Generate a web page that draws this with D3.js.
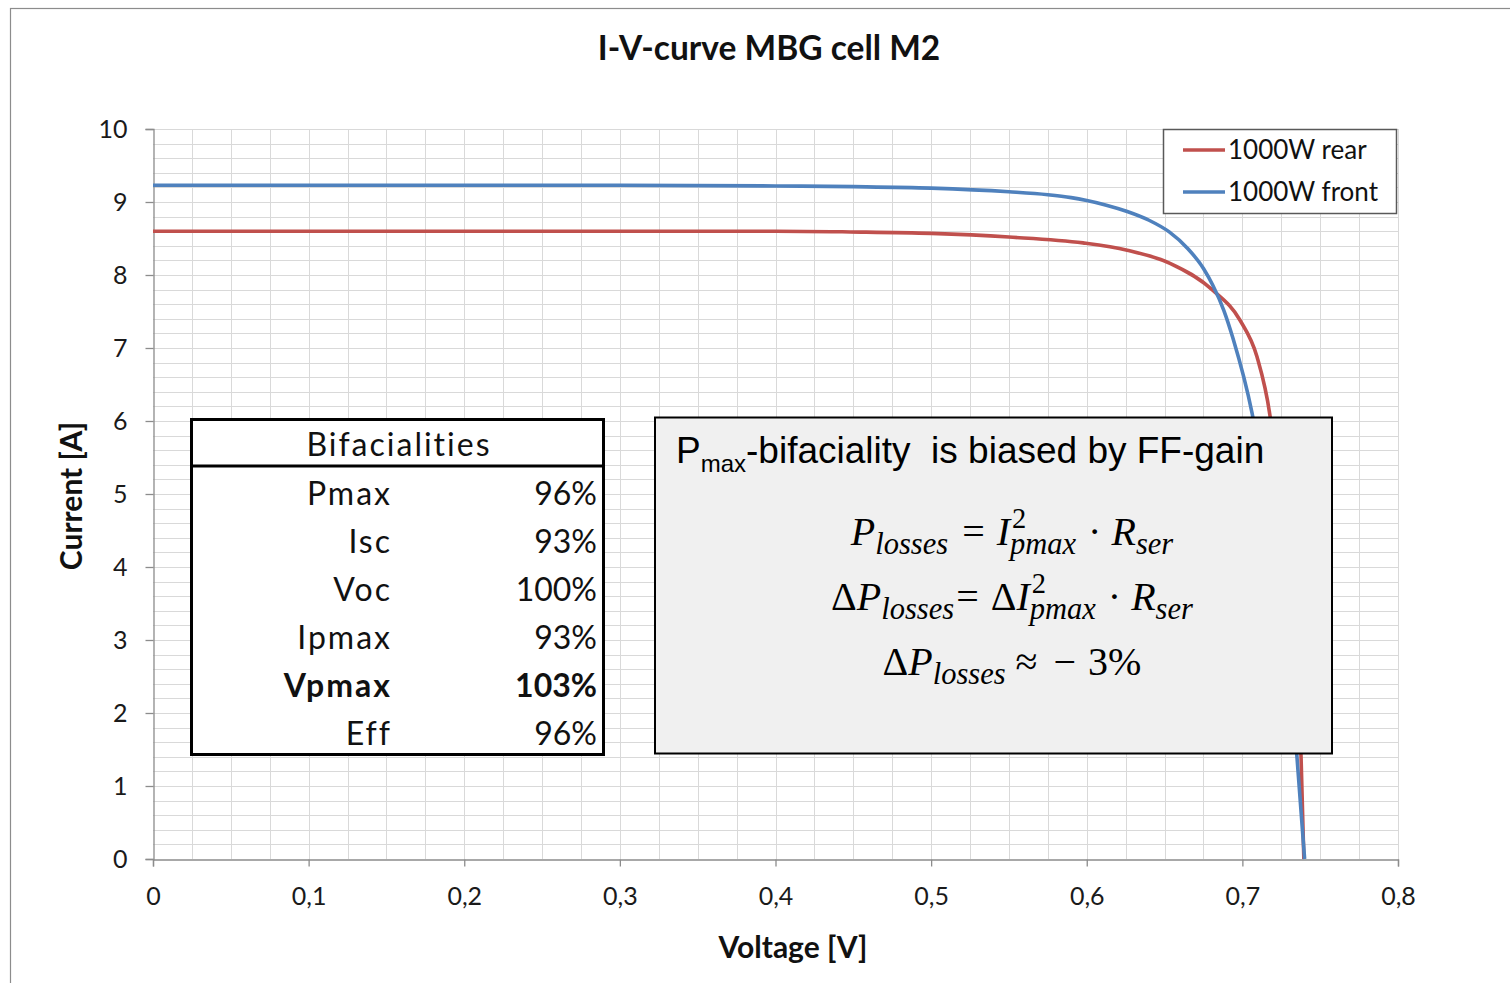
<!DOCTYPE html>
<html>
<head>
<meta charset="utf-8">
<script src="https://cdn.jsdelivr.net/npm/d3@7"></script>
<style>
  html, body { margin: 0; padding: 0; background: #fff; }
  svg { display: block; }
  text { white-space: pre; }
</style>
</head>
<body>
<svg id="chart" width="1510" height="983"></svg>
<script>
// Measured I-V data (voltage in V, current in A)
const frontVoltage = [0, 0.05, 0.1, 0.2, 0.3, 0.4, 0.45, 0.5, 0.55, 0.575, 0.59, 0.6, 0.612, 0.626, 0.64, 0.653, 0.665, 0.675, 0.681, 0.688, 0.694, 0.7062, 0.72, 0.73, 0.735, 0.740];
const frontCurrent = [9.23, 9.23, 9.23, 9.23, 9.23, 9.22, 9.21, 9.19, 9.14, 9.10, 9.06, 9.02, 8.96, 8.87, 8.75, 8.59, 8.36, 8.09, 7.86, 7.52, 7.13, 6.11, 4.30, 2.55, 1.42, 0];
const rearVoltage = [0, 0.1, 0.2, 0.3, 0.4, 0.448, 0.5, 0.55, 0.5976, 0.626, 0.6535, 0.6811, 0.6985, 0.7094, 0.7177, 0.728, 0.7377, 0.7395];
const rearCurrent = [8.60, 8.60, 8.60, 8.60, 8.60, 8.59, 8.57, 8.52, 8.44, 8.34, 8.16, 7.79, 7.38, 6.88, 6.08, 3.90, 1.40, 0];

const seriesNames = ["1000W rear", "1000W front"];
const seriesColors = ["#c0504d", "#4f81bd"];

const xTickValues = [0, 0.1, 0.2, 0.3, 0.4, 0.5, 0.6, 0.7, 0.8];
const yTickValues = [0, 1, 2, 3, 4, 5, 6, 7, 8, 9, 10];

const bifacialityParams = ["Pmax", "Isc", "Voc", "Ipmax", "Vpmax", "Eff"];
const bifacialityValues = ["96%", "93%", "100%", "93%", "103%", "96%"];
const bifacialityBold = ["Vpmax"];

const svg = d3.select("#chart");
const font = "Lato, 'Open Sans', sans-serif";

// Outer chart frame
svg.append("rect").attr("x", 10.5).attr("y", 8.5).attr("width", 1540).attr("height", 1000)
  .attr("fill", "none").attr("stroke", "#8c8c8c").attr("stroke-width", 1.2);

const plot = { left: 153, right: 1398, top: 129, bottom: 859 };
const x = d3.scaleLinear().domain([0, 0.8]).range([plot.left, plot.right]);
const y = d3.scaleLinear().domain([0, 10]).range([plot.bottom, plot.top]);

// Grid: minor verticals every 0.025 V, horizontals every 0.2 A
const grid = svg.append("g").attr("stroke", "#d9d9d9").attr("stroke-width", 1);
grid.selectAll("line.v").data(d3.range(1, 33).map(i => i * 0.025)).join("line")
  .attr("x1", d => Math.round(x(d)) + 0.5).attr("x2", d => Math.round(x(d)) + 0.5)
  .attr("y1", plot.top).attr("y2", plot.bottom);
grid.selectAll("line.h").data(d3.range(1, 51).map(i => i * 0.2)).join("line")
  .attr("y1", d => Math.round(y(d)) + 0.5).attr("y2", d => Math.round(y(d)) + 0.5)
  .attr("x1", plot.left).attr("x2", plot.right);

// Axes
const xAxis = svg.append("g").attr("transform", `translate(0,${plot.bottom + 0.5})`)
  .call(d3.axisBottom(x).tickValues(xTickValues).tickSize(7).tickPadding(21)
    .tickFormat(d => d3.format(".1~f")(d).replace(".", ",")));
const yAxis = svg.append("g").attr("transform", `translate(${plot.left + 0.5},0)`)
  .call(d3.axisLeft(y).tickValues(yTickValues).tickSize(8).tickPadding(18));
[xAxis, yAxis].forEach(a => {
  a.select(".domain").attr("stroke", "#8c8c8c").attr("stroke-width", 1.3);
  a.selectAll(".tick line").attr("stroke", "#8c8c8c").attr("stroke-width", 1.3);
  a.selectAll(".tick text").attr("fill", "#1a1a1a").style("font-family", font).style("font-size", "25px");
});

// Curves
const line = d3.line().x(d => x(d[0])).y(d => y(d[1])).curve(d3.curveMonotoneX);
const rear = rearVoltage.map((v, i) => [v, rearCurrent[i]]);
const front = frontVoltage.map((v, i) => [v, frontCurrent[i]]);
svg.append("path").datum(rear).attr("d", line).attr("fill", "none")
  .attr("stroke", seriesColors[0]).attr("stroke-width", 3.6).attr("stroke-linejoin", "round");
svg.append("path").datum(front).attr("d", line).attr("fill", "none")
  .attr("stroke", seriesColors[1]).attr("stroke-width", 3.6).attr("stroke-linejoin", "round");

// Title and axis titles
svg.append("text").attr("x", 769).attr("y", 60).attr("text-anchor", "middle")
  .style("font-family", font).style("font-weight", "bold").style("font-size", "33.5px").attr("fill", "#111")
  .text("I-V-curve MBG cell M2");
svg.append("text").attr("x", 793).attr("y", 958).attr("text-anchor", "middle")
  .style("font-family", font).style("font-weight", "bold").style("font-size", "30px").attr("fill", "#111")
  .text("Voltage [V]");
svg.append("text").attr("transform", "translate(82,496) rotate(-90)").attr("text-anchor", "middle")
  .style("font-family", font).style("font-weight", "bold").style("font-size", "30px").attr("fill", "#111")
  .text("Current [A]");

// Legend
const legend = svg.append("g");
legend.append("rect").attr("x", 1163.5).attr("y", 129.5).attr("width", 233).attr("height", 84)
  .attr("fill", "#fff").attr("stroke", "#595959").attr("stroke-width", 1.5);
seriesNames.forEach((name, i) => {
  const ly = 150 + i * 42;
  legend.append("line").attr("x1", 1183).attr("x2", 1225).attr("y1", ly).attr("y2", ly)
    .attr("stroke", seriesColors[i]).attr("stroke-width", 3.6);
  legend.append("text").attr("x", 1228).attr("y", ly + 9)
    .style("font-family", font).style("font-size", "26px").attr("fill", "#111").text(name);
});

// Bifacialities table
const table = svg.append("g");
table.append("rect").attr("x", 191.5).attr("y", 419.5).attr("width", 412).attr("height", 335)
  .attr("fill", "#fff").attr("stroke", "#000").attr("stroke-width", 3);
table.append("line").attr("x1", 191).attr("x2", 604).attr("y1", 466).attr("y2", 466)
  .attr("stroke", "#000").attr("stroke-width", 3);
table.append("text").attr("x", 399).attr("y", 456).attr("text-anchor", "middle")
  .style("font-family", font).style("font-size", "32px").style("letter-spacing", "2px").attr("fill", "#111")
  .text("Bifacialities");
bifacialityParams.forEach((p, i) => {
  const by = 505 + i * 48;
  const bold = bifacialityBold.includes(p) ? "bold" : "normal";
  table.append("text").attr("x", 392).attr("y", by).attr("text-anchor", "end")
    .style("font-family", font).style("font-size", "32px").style("font-weight", bold)
    .style("letter-spacing", "2px").attr("fill", "#111").text(p);
  table.append("text").attr("x", 597).attr("y", by).attr("text-anchor", "end")
    .style("font-family", font).style("font-size", "32px").style("font-weight", bold)
    .attr("fill", "#111").text(bifacialityValues[i]);
});

// Annotation box with the power-loss relations
const note = svg.append("g");
note.append("rect").attr("x", 655).attr("y", 417.5).attr("width", 677).attr("height", 336)
  .attr("fill", "#f0f0f0").attr("stroke", "#000").attr("stroke-width", 2);
const head = note.append("text").attr("x", 676).attr("y", 463)
  .style("font-family", "'Liberation Sans', Arial, sans-serif").style("font-size", "37px")
  .attr("fill", "#000");
head.append("tspan").text("P");
head.append("tspan").attr("dy", 9).style("font-size", "24px").text("max");
head.append("tspan").attr("dy", -9).text("-bifaciality\u00a0 is biased by FF-gain");

const mathFont = "'Liberation Serif', 'DejaVu Serif', serif";
function textWidth(str, size, italic) {
  const t = svg.append("text").style("font-family", mathFont).style("font-size", size + "px")
    .style("font-style", italic ? "italic" : "normal").text(str);
  const w = t.node().getComputedTextLength();
  t.remove();
  return w;
}
// Each piece: {t, s: size, dy: baseline shift, i: italic, g: gap before} or {stack: [sup, sub]}
function drawMath(pieces, cx, baseline) {
  const widths = pieces.map(p => (p.g || 0) + (p.stack
    ? Math.max(...p.stack.map(q => textWidth(q.t, q.s, q.i)))
    : textWidth(p.t, p.s, p.i)));
  const total = d3.sum(widths);
  let cur = cx - total / 2;
  pieces.forEach((p, k) => {
    const parts = p.stack ? p.stack : [p];
    parts.forEach(q => {
      note.append("text").attr("x", cur + (p.g || 0) + (q.sx || 0)).attr("y", baseline + (q.dy || 0))
        .style("font-family", mathFont).style("font-size", q.s + "px")
        .style("font-style", q.i ? "italic" : "normal").attr("fill", "#000").text(q.t);
    });
    cur += widths[k];
  });
}
const big = 40, small = 30.5;
drawMath([
  { t: "P", s: big, i: true },
  { t: "losses", s: small, i: true, dy: 9 },
  { t: "=", s: big, g: 14 },
  { t: "I", s: big, i: true, g: 12 },
  { stack: [{ t: "2", s: small - 2, dy: -17, sx: 2 }, { t: "pmax", s: small, i: true, dy: 9 }] },
  { t: "·", s: big, g: 12 },
  { t: "R", s: big, i: true, g: 10 },
  { t: "ser", s: small, i: true, dy: 9 }
], 1012, 545);
drawMath([
  { t: "Δ", s: big },
  { t: "P", s: big, i: true },
  { t: "losses", s: small, i: true, dy: 9 },
  { t: "=", s: big, g: 2 },
  { t: "Δ", s: big, g: 12 },
  { t: "I", s: big, i: true },
  { stack: [{ t: "2", s: small - 2, dy: -17, sx: 2 }, { t: "pmax", s: small, i: true, dy: 9 }] },
  { t: "·", s: big, g: 12 },
  { t: "R", s: big, i: true, g: 10 },
  { t: "ser", s: small, i: true, dy: 9 }
], 1012, 610);
drawMath([
  { t: "Δ", s: big },
  { t: "P", s: big, i: true },
  { t: "losses", s: small, i: true, dy: 9 },
  { t: "≈", s: big, g: 10 },
  { t: "−", s: big, g: 16 },
  { t: "3%", s: big, g: 12 }
], 1012, 675);
</script>
</body>
</html>
